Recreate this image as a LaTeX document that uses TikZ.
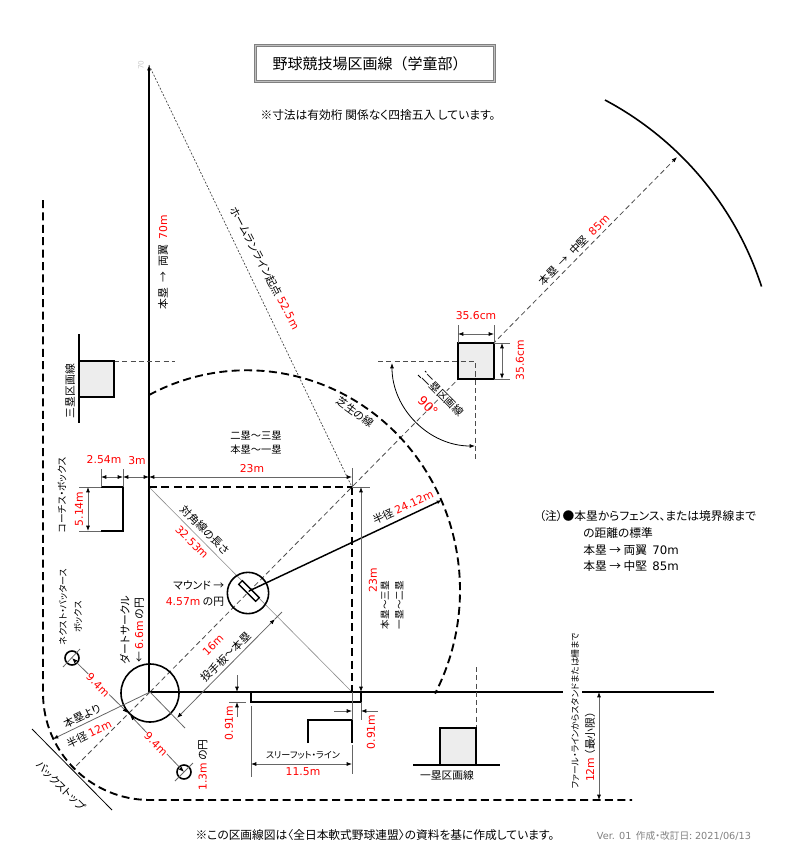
\documentclass[tikz,border=0pt]{standalone}
\usepackage{fontspec}
\setmainfont[RawFeature=+palt]{Noto Sans CJK JP}
\newfontfamily\fullfont{Noto Sans CJK JP}
\newfontfamily\latfont{DejaVu Sans}
\usetikzlibrary{arrows.meta}
\newcommand{\redm}[1]{{\color{red}\latfont #1}}
\newcommand{\lbfont}{\fontsize{8.1}{10.4}\selectfont}
\newcommand{\kanafont}{\fontsize{6.8}{9}\selectfont}
\newcommand{\notefont}{\fontsize{8.8}{10}\selectfont}
\tikzset{
  heavy/.style={line width=1.6pt},
  basedash/.style={line width=1.4pt,dash pattern=on 6pt off 3.3pt},
  thindash/.style={line width=.6pt,black!70,dash pattern=on 3.8pt off 2.4pt},
  dotline/.style={line width=.5pt,black!75,dash pattern=on 1.5pt off 1.2pt},
  dimline/.style={line width=.6pt,black!60},
  dimboth/.style={dimline,{Latex[length=4pt,width=3pt,color=black]}-{Latex[length=4pt,width=3pt,color=black]}},
  dimto/.style={dimline,-{Latex[length=4pt,width=3pt,color=black]}},
  ring/.style={circle,draw,line width=1.2pt,inner sep=0pt},
  basebox/.style={fill=black!7},
  lbl/.style={font=\lbfont,inner sep=.5pt,align=center},
  cut/.style={lbl,fill=white},
  note/.style={font=\notefont,inner sep=0pt,anchor=west},
}
\begin{document}
\begin{tikzpicture}[x=.75pt,y=-.75pt]
  \useasboundingbox (0,0) rectangle (800,865);
  \coordinate (home) at (150,692);
  \coordinate (wing) at (149,65);
  \coordinate (third) at (149,487);
  \coordinate (second) at (352,487);
  \coordinate (first) at (352,692);
  \coordinate (mid) at (677,157);
  \coordinate (bagtwo) at (475,361);

  % field lines
  \draw[dotline] (wing) -- (second);
  \draw[line width=.45pt,black!45] (third) -- (first);
  \draw[thindash,-{Latex[length=4pt,width=3pt,color=black]}] (home) -- (mid);
  \draw[thindash] (home) -- (73,769);
  \draw[basedash] (third) -- (second);
  \draw[basedash] (second) -- (first);
  \draw[basedash] (149,395) arc[start angle=-117.4,end angle=28,x radius=213,y radius=220];
  \draw[basedash] (43,200) -- (43,693) arc[start angle=180,end angle=90,radius=107] -- (632,800);
  \draw[line width=1.2pt] (605,100) arc[start angle=-62,end angle=-18,radius=325];
  \draw[heavy,-{Latex[length=4pt,width=3pt]}] (149,692) -- (wing);
  \draw[heavy] (148,692) -- (563,692);
  \draw[heavy] (582,692) -- (714,692);
  \draw[line width=.6pt] (32,729) -- (112,810);

  % circles and plate
  \node[ring,minimum size=43.5pt] (dirt) at (150,693) {};
  \node[ring,minimum size=31pt] (mound) at (248,593) {};
  \node[draw,line width=1pt,rotate=-45,minimum width=18pt,minimum height=3.8pt,inner sep=0pt] (plate) at (249,591) {};
  \draw[line width=1.1pt,-{Latex[length=4pt,width=3pt]}] (plate.center) -- (442,500);
  \node[ring,minimum size=10.5pt] (nextl) at (72,658) {};
  \node[ring,minimum size=10.5pt] (nextr) at (184,772) {};
  \draw[dimline] (63,667) -- (80,649);
  \draw[dimline] (175,781) -- (193,763);
  \draw[dimboth] (nextl.center) -- (128,713);
  \draw[dimboth] (130,715) -- (nextr.center);
  \draw[dimto] (home) -- (53,739);
  \draw[dimline] (home) -- (185,728);
  \draw[dimline] (275,619) -- (282,612);
  \draw[dimboth] (177,718) -- (275,619);

  % coach box
  \coordinate (boxtl) at (101,487);
  \coordinate (boxtr) at (123,487);
  \coordinate (boxbr) at (123,531);
  \coordinate (boxbl) at (101,531);
  \draw[heavy] (boxtl) -- (boxtr) -- (boxbr) -- (boxbl);
  \draw[dimline] (boxtl) -- +(0,-18);
  \draw[dimline] (boxtr) -- +(0,-18);
  \draw[dimline] (boxtl) -- +(-22,0);
  \draw[dimline] (boxbl) -- +(-22,0);
  \draw[dimboth] (101,477) -- (123,477);
  \draw[dimboth] (123,477) -- (149,477);
  \draw[dimboth] (149,477) -- (352,477);
  \draw[dimboth] (88,487) -- (88,531);
  \draw[dimline] (second) -- +(0,-19);
  \draw[dimline] (second) -- +(18,0);
  \draw[dimboth] (361,487) -- (361,692);

  % third base
  \draw[thindash] (114,361) -- (175,361);
  \draw[heavy,basebox] (79,361) -- (114,361) -- (114,397) -- (79,397);
  \draw[heavy] (79,334) -- (79,423);

  % second base
  \draw[heavy,basebox] (458,343) rectangle (494,379);
  \draw[thindash] (378,361) -- (bagtwo) -- (475,460);
  \draw[{Latex[length=4pt,width=3pt]}-{Latex[length=4pt,width=3pt]},line width=.6pt] (392,363) arc[start angle=180,end angle=90,radius=83];
  \draw[dimline] (458,325) -- (458,343);
  \draw[dimline] (494,325) -- (494,343);
  \draw[dimboth] (458,334) -- (494,334);
  \draw[dimline] (494,343) -- (510,343);
  \draw[dimline] (494,379) -- (510,379);
  \draw[dimboth] (502,343) -- (502,379);
  \draw[line width=.6pt] (418,375) -- (432,389);
  \draw[line width=.6pt] (425,371) -- (432,378);

  % first base
  \draw[thindash] (476,667) -- (476,728);
  \draw[heavy,basebox] (440,765) -- (440,728) -- (476,728) -- (476,765);
  \draw[heavy] (413,765) -- (500,765);

  % three foot line
  \draw[heavy] (251,692) -- (251,702) -- (361,702) -- (361,692);
  \draw[heavy] (308,743) -- (308,720) -- (352,720) -- (352,743);
  \draw[dimline] (352,692) -- (352,720);
  \draw[dimline] (361,702) -- (361,720);
  \draw[dimto] (334,711) -- (352,711);
  \draw[dimto] (378,711) -- (361,711);
  \draw[dimline] (251,706) -- (251,777);
  \draw[dimline] (352,745) -- (352,774);
  \draw[dimboth] (251,764) -- (352,764);
  \draw[dimto] (237,675) -- (237,692);
  \draw[dimto] (237,717) -- (237,702);
  \draw[dimline] (229,702) -- (246,702);
  \draw[dimboth] (599,692) -- (599,800);

  % title and notes
  \node[draw=black!50,line width=.7pt,double=black!25,double distance=.7pt,minimum width=179pt,minimum height=27pt] (frame) at (375,63.5) {};
  \node[font=\fontsize{11.25}{13}\selectfont\fullfont,inner sep=0pt] (title) at (370,64) {野球競技場区画線（学童部）};
  \node[font=\notefont,inner sep=0pt] (rounding) at (378,115) {※寸法は有効桁 関係なく四捨五入 しています。};
  \node[font=\notefont,inner sep=0pt] (source) at (375,835) {※この区画線図は〈全日本軟式野球連盟〉の資料を基に作成しています。};
  \node[font=\fontsize{7.3}{8}\selectfont,inner sep=0pt,text=black!50] (version) at (674,836) {{\latfont Ver. 01}\ \ 作成・改訂日: {\latfont 2021/06/13}};
  \node[note] (notea) at (539,516) {（注）●本塁からフェンス、または境界線まで};
  \node[note] (noteb) at (583,533) {の距離の標準};
  \node[note] (notec) at (583,550) {本塁 → 両翼 \ {\latfont 70m}};
  \node[note] (noted) at (583,566) {本塁 → 中堅 \ {\latfont 85m}};

  % labels
  \node[lbl,rotate=90] (wingtext) at (163,262) {本塁\enspace{}→\enspace{}両翼\enspace{}\redm{70m}};
  \node[lbl,rotate=90,text=black!20,font=\fontsize{5.5}{6}\selectfont\latfont] (wingtop) at (141,65) {70};
  \node[cut,rotate=-62.5] (hrtext) at (265,268) {ホームランライン起点 \redm{52.5m}};
  \node[lbl,rotate=45] (midtext) at (574,250) {本塁\enspace{}→\enspace{}中堅\enspace{}\redm{85m}};
  \node[lbl,font=\fontsize{7.7}{9}\selectfont] (pairtop) at (256,436) {二塁～三塁};
  \node[lbl,font=\fontsize{7.7}{9}\selectfont] (pairlow) at (256,450) {本塁～一塁};
  \node[lbl] (twothree) at (252,469) {\redm{23m}};
  \node[lbl] (coachw) at (104,460) {\redm{2.54m}};
  \node[lbl] (coachg) at (137,461) {\redm{3m}};
  \node[lbl,rotate=90] (coachh) at (79,509) {\redm{5.14m}};
  \node[lbl,rotate=90,font=\fontsize{7.3}{9}\selectfont] (coachname) at (62,495) {コーチス・ボックス};
  \node[lbl,rotate=90] (thirdname) at (70,391) {三塁区画線};
  \node[cut,rotate=-45] (secondname) at (443,395) {二塁区画線};
  \node[lbl] (bagw) at (476,316) {\redm{35.6cm}};
  \node[lbl,rotate=90] (bagh) at (520,360) {\redm{35.6cm}};
  \node[lbl,rotate=-45,font=\fontsize{9.5}{12}\selectfont\latfont] (angle) at (428,406) {\color{red}90°};
  \node[cut,rotate=-36] (turf) at (355,412) {芝生の線};
  \node[lbl,rotate=25] (radius) at (403,507) {半径 \redm{24.12m}};
  \node[lbl,rotate=90] (basel) at (373,580) {\redm{23m}};
  \node[lbl,rotate=90,font=\fontsize{7.2}{10.8}\selectfont] (pairr) at (392,605) {本塁～三塁\\一塁～二塁};
  \node[lbl,rotate=-45] (diag) at (205,530) {対角線の長さ};
  \node[lbl,rotate=-45] (diagv) at (192,542) {\redm{32.53m}};
  \node[lbl,anchor=east] (moundn) at (225,585) {マウンド\ →};
  \node[lbl,anchor=east] (moundd) at (225,602) {\redm{4.57m} の円};
  \node[lbl,rotate=90] (dirtn) at (132,630) {ダートサークル\\←\ \redm{6.6m} の円};
  \node[lbl,rotate=90,font=\kanafont] (nextn) at (63,607) {ネクスト・バッタース};
  \node[lbl,rotate=90,font=\kanafont] (nextb) at (78,617) {ボックス};
  \node[cut,rotate=-45] (nextd) at (98,685) {\redm{9.4m}};
  \node[cut,rotate=-45] (nextf) at (156,744) {\redm{9.4m}};
  \node[lbl,rotate=90] (nextc) at (203,765) {\redm{1.3m} の円};
  \node[lbl,rotate=26] (fromhome) at (82,716) {本塁より};
  \node[lbl,rotate=26] (backr) at (89,734) {半径 \redm{12m}};
  \node[lbl,rotate=-45] (backname) at (61,786) {バックストップ};
  \node[lbl,rotate=45] (pitchd) at (213,645) {\redm{16m}};
  \node[lbl,rotate=45] (pitchn) at (226,657) {投手板～本塁};
  \node[lbl,rotate=90] (plateh) at (229,723) {\redm{0.91m}};
  \node[lbl,rotate=90] (platew) at (371,732) {\redm{0.91m}};
  \node[lbl,font=\kanafont] (footname) at (303,755) {スリーフット・ライン};
  \node[lbl] (footlen) at (303,772) {\redm{11.5m}};
  \node[lbl] (firstname) at (447,775) {一塁区画線};
  \node[lbl,rotate=90,font=\fontsize{6.6}{8}\selectfont] (foulname) at (575,711) {ファール・ラインからスタンドまたは柵まで};
  \node[lbl,rotate=90] (fouln) at (590,747) {\redm{12m}\ （最小限）};
\end{tikzpicture}
\end{document}
